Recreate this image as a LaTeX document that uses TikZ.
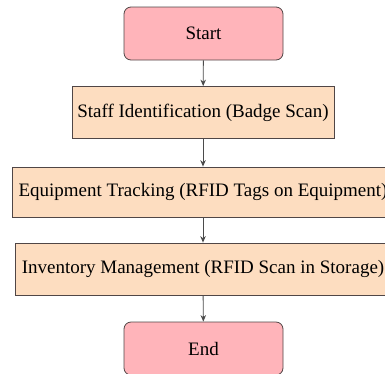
\documentclass[tikz,border=0pt]{standalone}
\usepackage{fontspec}
\setmainfont{Liberation Serif}
\usetikzlibrary{arrows.meta}
\definecolor{pinkfill}{RGB}{255,180,186}
\definecolor{peachfill}{RGB}{253,221,192}
\definecolor{edgecol}{RGB}{80,70,70}
\definecolor{arrowcol}{RGB}{75,75,75}
\begin{document}
\begin{tikzpicture}[x=1pt,y=1pt,
  terminal/.style={draw=edgecol, line width=0.8pt, fill=pinkfill, rounded corners=7pt,
    minimum width=159pt, minimum height=53pt, inner sep=0pt,
    font=\fontsize{19}{22}\selectfont},
  process/.style={draw=edgecol, line width=0.8pt, fill=peachfill,
    minimum height=52pt, inner sep=0pt,
    font=\fontsize{19}{22}\selectfont},
  flow/.style={draw=arrowcol, line width=0.9pt, -{Stealth[length=6.5pt,width=5.5pt]}}]
\useasboundingbox (0,0) rectangle (385,-373);
\clip (0,0) rectangle (385,-373);
\node[terminal] (start) at (203.5,-33.5) {Start};
\node[process, minimum width=262pt] (staff) at (203,-112.5) {Staff Identification (Badge Scan)};
\node[process, minimum width=382pt, minimum height=50pt] (equip) at (203,-192) {Equipment Tracking (RFID Tags on Equipment)};
\node[process, minimum width=376pt] (inv) at (203,-269) {Inventory Management (RFID Scan in Storage)};
\node[terminal] (end) at (203.5,-348.5) {End};
\draw[flow] (start) -- (staff);
\draw[flow] (staff) -- (equip);
\draw[flow] (equip) -- (inv);
\draw[flow] (inv) -- (end);
\end{tikzpicture}
\end{document}
